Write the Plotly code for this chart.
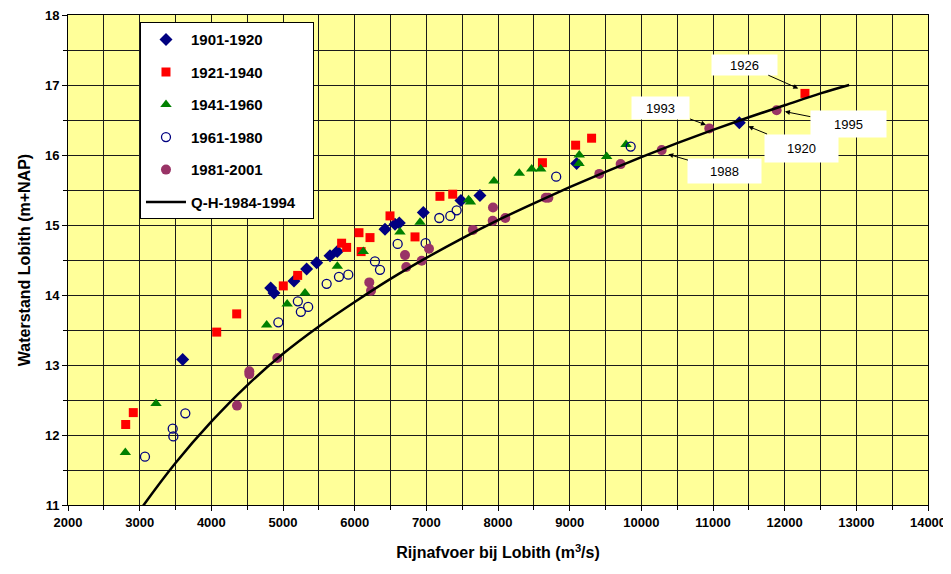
import plotly.graph_objects as go

# ---- data ----
q_1901 = [3600, 4828, 4874, 5153, 5330, 5470, 5656, 5757, 6423, 6563, 6623, 6958, 7483, 7748, 9097, 11367]
h_1901 = [13.08, 14.10, 14.03, 14.20, 14.37, 14.46, 14.56, 14.62, 14.94, 15.01, 15.03, 15.18, 15.35, 15.42, 15.88, 16.46]

q_1921 = [2805, 2911, 4075, 4354, 5004, 5205, 5818, 5888, 6060, 6214, 6090, 6493, 6842, 7190, 7368, 8620, 9083, 9306, 12283]
h_1921 = [12.15, 12.32, 13.47, 13.73, 14.13, 14.28, 14.74, 14.68, 14.89, 14.82, 14.62, 15.13, 14.83, 15.41, 15.44, 15.89, 16.14, 16.24, 16.88]

q_1941 = [2800, 3228, 4772, 5058, 5307, 5758, 6120, 6632, 6912, 7590, 7615, 7944, 8297, 8470, 8596, 9134, 9130, 9516, 9786]
h_1941 = [11.75, 12.45, 13.57, 13.87, 14.03, 14.41, 14.62, 14.90, 15.04, 15.36, 15.33, 15.63, 15.74, 15.80, 15.80, 16.00, 15.88, 15.98, 16.15]

q_1961 = [3074, 3461, 3470, 3637, 4935, 5207, 5249, 5351, 5609, 5781, 5911, 6283, 6353, 6600, 6990, 7181, 7335, 7423, 8812, 9851]
h_1961 = [11.69, 12.09, 11.98, 12.31, 13.61, 13.91, 13.76, 13.83, 14.16, 14.26, 14.29, 14.48, 14.36, 14.73, 14.74, 15.10, 15.13, 15.21, 15.69, 16.12]

q_1981 = [4358, 4530, 4530, 4921, 6204, 6228, 6702, 6720, 6935, 7037, 7650, 7930, 7926, 8102, 8666, 8703, 9414, 9711, 10284, 10948, 11888]
h_1981 = [12.42, 12.91, 12.87, 13.10, 14.18, 14.06, 14.57, 14.40, 14.49, 14.66, 14.93, 15.25, 15.06, 15.10, 15.39, 15.39, 15.73, 15.87, 16.07, 16.38, 16.64]

q_curve = [2900, 3000, 3500, 4000, 4500, 5000, 5500, 6000, 6500, 7000, 7500, 8000, 8500, 9000, 9500, 10000, 10500, 11000, 11500, 12000, 12500, 12900]
h_curve = [10.77, 10.92, 11.60, 12.19, 12.71, 13.16, 13.55, 13.90, 14.23, 14.53, 14.81, 15.07, 15.31, 15.54, 15.76, 15.97, 16.17, 16.36, 16.54, 16.71, 16.88, 17.00]

# annotation labels: text, box centre (x, y), arrow head (x, y), box size (px)
ann_text = ["1926", "1993", "1995", "1920", "1988"]
ann_box_x = [11441, 10274, 12888, 12232, 11167]
ann_box_y = [17.29, 16.67, 16.44, 16.10, 15.77]
ann_head_x = [12190, 10902, 12004, 11492, 10376]
ann_head_y = [16.95, 16.43, 16.62, 16.41, 16.01]
ann_w = [63, 55, 73, 71, 71]
ann_h = [18, 20, 24, 25, 22]

x_ticks = list(range(2000, 14001, 1000))
y_ticks = list(range(11, 19))

FONT = "Arial, Liberation Sans, sans-serif"
GRID = "#1a1a1a"

fig = go.Figure()
fig.add_trace(go.Scatter(x=q_1901, y=h_1901, mode="markers", name="1901-1920", legendgroup="a",
                         marker=dict(symbol="diamond", size=10, color="#000080")))
fig.add_trace(go.Scatter(x=q_1921, y=h_1921, mode="markers", name="1921-1940", legendgroup="b",
                         marker=dict(symbol="square", size=9, color="#FF0000")))
fig.add_trace(go.Scatter(x=q_1941, y=h_1941, mode="markers", name="1941-1960", legendgroup="c",
                         marker=dict(symbol="triangle-up", size=10, color="#008000")))
fig.add_trace(go.Scatter(x=q_1961, y=h_1961, mode="markers", name="1961-1980", legendgroup="d",
                         marker=dict(symbol="circle-open", size=9, color="#000080", line=dict(width=1.3, color="#000080"))))
fig.add_trace(go.Scatter(x=q_1981, y=h_1981, mode="markers", name="1981-2001", legendgroup="e",
                         marker=dict(symbol="circle", size=10, color="#993366")))
fig.add_trace(go.Scatter(x=q_curve, y=h_curve, mode="lines", name="Q-H-1984-1994&nbsp;&nbsp;&nbsp;", legendgroup="f",
                         line=dict(color="black", width=2.5, shape="spline")))

for t, bx, by, hx, hy, w, h in zip(ann_text, ann_box_x, ann_box_y, ann_head_x, ann_head_y, ann_w, ann_h):
    fig.add_annotation(x=hx, y=hy, ax=bx, ay=by, axref="x", ayref="y", xref="x", yref="y",
                       text=t, showarrow=True, arrowhead=2, arrowsize=1, arrowwidth=1, arrowcolor="black",
                       bgcolor="white", width=w, height=h,
                       font=dict(family=FONT, size=13, color="black"))

axis_common = dict(showline=True, linecolor="black", linewidth=1, mirror=True, automargin=False,
                   showgrid=True, gridcolor=GRID, gridwidth=1, zeroline=False,
                   ticks="outside", ticklen=5, tickcolor="black", ticklabeloverflow="allow",
                   tickfont=dict(family=FONT, size=13, color="black", weight="bold"))

fig.update_xaxes(range=[2000, 14000], tickvals=x_ticks, ticktext=[str(v) for v in x_ticks],
                 minor=dict(dtick=500, showgrid=True, gridcolor=GRID, gridwidth=1, ticks="outside", ticklen=4, tickcolor="black"),
                 title=dict(text="Rijnafvoer bij Lobith (m<sup>3</sup>/s)", font=dict(family=FONT, size=16, color="black", weight="bold"), standoff=18),
                 **axis_common)
fig.update_yaxes(range=[11, 18], tickvals=y_ticks, ticktext=[str(v) for v in y_ticks],
                 minor=dict(dtick=0.5, showgrid=True, gridcolor=GRID, gridwidth=1, ticks="outside", ticklen=4, tickcolor="black"),
                 title=dict(text="Waterstand Lobith (m+NAP)", font=dict(family=FONT, size=16, color="black", weight="bold"), standoff=10),
                 **axis_common)

# the page body has an 8px margin, so the figure is sized to fit the window exactly
fig.update_layout(
    width=943, height=566,
    margin=dict(l=60, r=23, t=7, b=69),
    paper_bgcolor="white", plot_bgcolor="#FFFF99",
    font=dict(family=FONT, color="black"),
    showlegend=True,
    legend=dict(x=0.0837, y=0.985, xanchor="left", yanchor="top",
                bgcolor="white", bordercolor="black", borderwidth=1,
                font=dict(family=FONT, size=15, color="black", weight="bold"),
                tracegroupgap=10, itemwidth=40, traceorder="grouped"),
)

fig.write_html("out.html")
